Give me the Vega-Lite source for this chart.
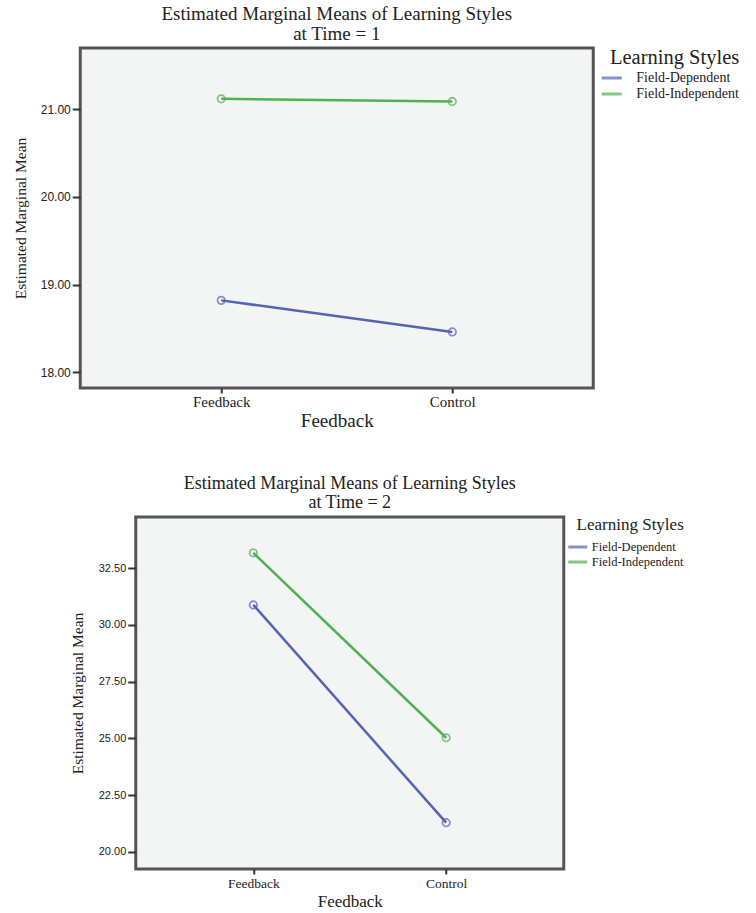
{
  "$schema": "https://vega.github.io/schema/vega-lite/v6.json",
  "background": "white",
  "padding": {"left": 11, "top": 3, "right": 0, "bottom": 0},
  "datasets": {
    "emm": [
      {"time": 1, "feedback": "Feedback", "style": "Field-Dependent", "mean": 18.82},
      {"time": 1, "feedback": "Control", "style": "Field-Dependent", "mean": 18.46},
      {"time": 1, "feedback": "Feedback", "style": "Field-Independent", "mean": 21.12},
      {"time": 1, "feedback": "Control", "style": "Field-Independent", "mean": 21.09},
      {"time": 2, "feedback": "Feedback", "style": "Field-Dependent", "mean": 30.88},
      {"time": 2, "feedback": "Control", "style": "Field-Dependent", "mean": 21.29},
      {"time": 2, "feedback": "Feedback", "style": "Field-Independent", "mean": 33.17},
      {"time": 2, "feedback": "Control", "style": "Field-Independent", "mean": 25.03}
    ]
  },
  "vconcat": [
    {
      "title": {"text": ["Estimated Marginal Means of Learning Styles", "at Time = 1"], "anchor": "middle", "frame": "group", "offset": 4, "fontSize": 19, "lineHeight": 20},
      "width": 513,
      "height": 340,
      "data": {"name": "emm"},
      "transform": [{"filter": "datum.time == 1"}],
      "encoding": {
        "x": {"field": "feedback", "type": "nominal", "sort": ["Feedback", "Control"], "scale": {"type": "point", "padding": 0.61}, "axis": {"title": "Feedback", "labelAngle": 0, "labelFontSize": 15, "titleFontSize": 19, "labelPadding": 1, "titlePadding": 2}},
        "y": {"field": "mean", "type": "quantitative", "scale": {"domain": [17.82, 21.7], "zero": false, "nice": false}, "axis": {"values": [18, 19, 20, 21], "format": ".2f", "title": "Estimated Marginal Mean", "titleFontSize": 15.5, "labelFontSize": 12, "tickSize": 8, "labelPadding": 2, "titlePadding": 12}},
        "color": {"field": "style", "type": "nominal", "title": "Learning Styles", "scale": {"domain": ["Field-Dependent", "Field-Independent"], "range": ["#5563b5", "#4db34f"]}, "legend": {"orient": "right", "offset": 10, "titleFontSize": 20.5, "labelFontSize": 14, "titleAnchor": "end", "symbolType": "M-1.5,0H1.5", "symbolSize": 180, "symbolStrokeWidth": 3, "rowPadding": 0, "labelOffset": 16, "titlePadding": 1}}
      },
      "layer": [
        {"mark": {"type": "line", "strokeWidth": 2.5}},
        {"mark": {"type": "point", "filled": false, "size": 55, "strokeWidth": 1.8}}
      ]
    },
    {
      "title": {"text": ["Estimated Marginal Means of Learning Styles", "at Time = 2"], "anchor": "middle", "frame": "group", "offset": 5, "fontSize": 18, "lineHeight": 19},
      "width": 428,
      "height": 352,
      "data": {"name": "emm"},
      "transform": [{"filter": "datum.time == 2"}],
      "encoding": {
        "x": {"field": "feedback", "type": "nominal", "sort": ["Feedback", "Control"], "scale": {"type": "point", "padding": 0.61}, "axis": {"title": "Feedback", "labelAngle": 0, "labelFontSize": 13.5, "titleFontSize": 17, "labelPadding": 2, "titlePadding": 4}},
        "y": {"field": "mean", "type": "quantitative", "scale": {"domain": [19.25, 34.75], "zero": false, "nice": false}, "axis": {"values": [20, 22.5, 25, 27.5, 30, 32.5], "format": ".2f", "title": "Estimated Marginal Mean", "titleFontSize": 15.5, "labelFontSize": 11, "tickSize": 8, "labelPadding": 2, "titlePadding": 13}},
        "color": {"field": "style", "type": "nominal", "title": "Learning Styles", "scale": {"domain": ["Field-Dependent", "Field-Independent"], "range": ["#5563b5", "#4db34f"]}, "legend": {"orient": "right", "offset": 6, "titleFontSize": 17, "labelFontSize": 12.5, "titleAnchor": "end", "symbolType": "M-1.5,0H1.5", "symbolSize": 160, "symbolStrokeWidth": 3, "rowPadding": 0, "labelOffset": 6, "titlePadding": 5}}
      },
      "layer": [
        {"mark": {"type": "line", "strokeWidth": 2.5}},
        {"mark": {"type": "point", "filled": false, "size": 55, "strokeWidth": 1.8}}
      ]
    }
  ],
  "spacing": 31,
  "align": "all",
  "center": true,
  "resolve": {"scale": {"color": "independent"}, "legend": {"color": "independent"}},
  "config": {
    "font": "Liberation Serif",
    "view": {"fill": "#f3f4f4", "stroke": "#555555", "strokeWidth": 3},
    "title": {"font": "Liberation Serif", "fontWeight": "normal", "color": "#222222"},
    "axis": {"domain": false, "grid": false, "tickColor": "#333333", "tickWidth": 2, "labelColor": "#222222", "titleColor": "#222222", "titleFontWeight": "normal", "labelFont": "Liberation Serif", "titleFont": "Liberation Serif"},
    "axisY": {"labelFont": "Liberation Sans", "tickSize": 6},
    "axisX": {"tickSize": 5},
    "legend": {"titleFont": "Liberation Serif", "labelFont": "Liberation Serif", "titleFontWeight": "normal", "titleColor": "#222222", "labelColor": "#222222"}
  }
}
